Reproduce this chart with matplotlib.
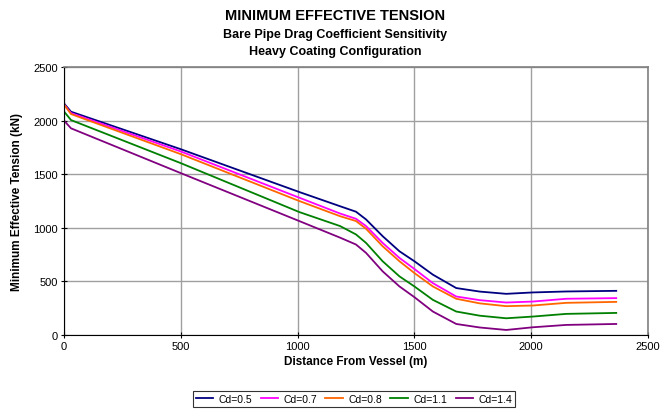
"""
Minimum effective tension vs. distance from vessel, for several bare pipe
drag coefficients (heavy coating configuration).
"""

import matplotlib
matplotlib.use("Agg")
import matplotlib.pyplot as plt

plt.rcParams["font.family"] = ["Liberation Sans", "DejaVu Sans"]

# ── Data ────────────────────────────────────────────────────────────

distance = [0, 30, 500, 1007, 1182, 1250, 1293, 1364, 1436, 1500,
            1579, 1679, 1780, 1893, 2007, 2150, 2364]

cd_05 = [2160, 2083, 1733, 1334, 1201, 1150, 1078, 922, 781, 688,
         563, 438, 405, 384, 397, 406, 412]
cd_07 = [2150, 2070, 1712, 1281, 1133, 1084, 1016, 859, 719, 616,
         484, 359, 325, 303, 312, 338, 344]
cd_08 = [2150, 2061, 1687, 1250, 1108, 1063, 991, 828, 688, 578,
         453, 338, 295, 269, 275, 300, 309]
cd_11 = [2085, 2005, 1603, 1147, 1016, 938, 859, 688, 547, 453,
         328, 219, 180, 156, 172, 197, 206]
cd_14 = [2000, 1928, 1510, 1063, 908, 844, 766, 594, 453, 353,
         219, 103, 70, 47, 72, 94, 103]

labels = ["Cd=0.5", "Cd=0.7", "Cd=0.8", "Cd=1.1", "Cd=1.4"]
colors = ["#000080", "#FF00FF", "#FF6600", "#008000", "#800080"]
x_ticks = [0, 500, 1000, 1500, 2000, 2500]
y_ticks = [0, 500, 1000, 1500, 2000, 2500]

# ── Plot ─────────────────────────────────────────────────────────────

fig = plt.figure(figsize=(6.61, 4.10), dpi=100)
ax = fig.add_axes([64 / 661, 1 - 336 / 410, 584 / 661, 268 / 410])

for series, label, color in zip([cd_05, cd_07, cd_08, cd_11, cd_14], labels, colors):
    ax.plot(distance, series, color=color, linewidth=1.3, label=label)

ax.set_xlim(0, 2500)
ax.set_ylim(0, 2500)
ax.set_xticks(x_ticks)
ax.set_yticks(y_ticks)
ax.tick_params(labelsize=8, length=5, direction="inout", pad=2)
ax.grid(True, color="#A0A0A0", linewidth=1)
ax.set_axisbelow(True)
for side in ["top", "right"]:
    ax.spines[side].set_color("#808080")
    ax.spines[side].set_linewidth(1.2)
for side in ["left", "bottom"]:
    ax.spines[side].set_color("black")

ax.set_xlabel("Distance From Vessel (m)", fontsize=8.5, fontweight="bold", labelpad=3)
ax.set_ylabel("Minimum Effective Tension (kN)", fontsize=8.5, fontweight="bold", labelpad=7)

fig.text(335 / 661, 1 - 16 / 410, "MINIMUM EFFECTIVE TENSION",
         ha="center", va="center", fontsize=10.5, fontweight="bold")
fig.text(335 / 661, 1 - 35 / 410, "Bare Pipe Drag Coefficient Sensitivity",
         ha="center", va="center", fontsize=9, fontweight="bold")
fig.text(335 / 661, 1 - 52 / 410, "Heavy Coating Configuration",
         ha="center", va="center", fontsize=9, fontweight="bold")

leg = fig.legend(loc="center", bbox_to_anchor=(354 / 661, 1 - 400 / 410),
                 ncol=5, fontsize=7.5, frameon=True, fancybox=False,
                 edgecolor="black", handlelength=1.7, handletextpad=0.5,
                 columnspacing=0.8, borderpad=0.25, borderaxespad=0)
leg.get_frame().set_linewidth(0.8)

fig.savefig("out.png", dpi=100)
plt.close(fig)
